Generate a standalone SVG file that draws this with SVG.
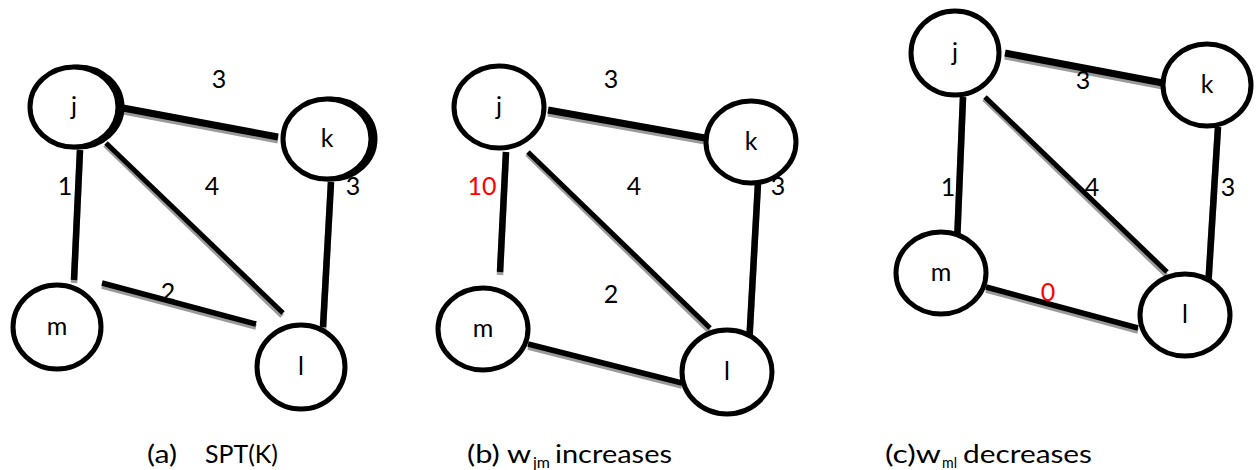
<svg xmlns="http://www.w3.org/2000/svg" width="1259" height="470" viewBox="0 0 1259 470">
<style>
.node{fill:#fff;stroke:#000;stroke-width:5}
.shad{fill:none;stroke:#000;stroke-width:5}
.lbl{font-family:Lato,"Liberation Sans",sans-serif;font-size:25px;fill:#000;text-anchor:middle}
.w{font-family:Lato,"Liberation Sans",sans-serif;font-size:25px;fill:#000;text-anchor:middle}
.red{fill:#ff0000}
.cap{font-family:Lato,"Liberation Sans",sans-serif;font-size:25px;fill:#000}
.sub{font-family:Lato,"Liberation Sans",sans-serif;font-size:16px;fill:#000}
.g{stroke:#9a9a9a;stroke-linecap:butt}
.b{stroke:#000;stroke-linecap:butt}
.jk{stroke-width:7}
.jm{stroke-width:6.5}
.jl{stroke-width:5}
.ml{stroke-width:5.5}
.kl{stroke-width:6.5}
</style>
<g id="connectors">
  <line class="g jk" x1="123" y1="111" x2="278" y2="140"/>
  <line class="b jk" x1="123" y1="108" x2="278" y2="137"/>
  <line class="g jm" x1="80" y1="150" x2="74" y2="283"/>
  <line class="b jm" x1="80" y1="150" x2="74" y2="280"/>
  <line class="g jl" x1="105" y1="145" x2="282" y2="316"/>
  <line class="b jl" x1="106" y1="143" x2="283" y2="313"/>
  <line class="g ml" x1="102" y1="286" x2="256" y2="327"/>
  <line class="b ml" x1="102" y1="283" x2="256" y2="324"/>
  <line class="g kl" x1="331" y1="182" x2="323" y2="330"/>
  <line class="b kl" x1="331" y1="182" x2="323" y2="327"/>
  <line class="g jk" x1="548" y1="113" x2="705" y2="141"/>
  <line class="b jk" x1="548" y1="110" x2="705" y2="138"/>
  <line class="g jm" x1="506" y1="152" x2="500" y2="275"/>
  <line class="b jm" x1="506" y1="152" x2="500" y2="272"/>
  <line class="g jl" x1="527" y1="154" x2="709" y2="331"/>
  <line class="b jl" x1="528" y1="152" x2="710" y2="328"/>
  <line class="g ml" x1="528" y1="347" x2="682" y2="386"/>
  <line class="b ml" x1="528" y1="344" x2="682" y2="383"/>
  <line class="g kl" x1="758" y1="183" x2="749" y2="348"/>
  <line class="b kl" x1="758" y1="183" x2="749" y2="345"/>
  <line class="g jk" x1="1005" y1="56" x2="1163" y2="86"/>
  <line class="b jk" x1="1005" y1="53" x2="1163" y2="83"/>
  <line class="g jm" x1="963" y1="97" x2="957" y2="246"/>
  <line class="b jm" x1="963" y1="97" x2="957" y2="243"/>
  <line class="g jl" x1="984" y1="99" x2="1166" y2="275"/>
  <line class="b jl" x1="985" y1="97" x2="1167" y2="272"/>
  <line class="g ml" x1="986" y1="290" x2="1138" y2="331"/>
  <line class="b ml" x1="986" y1="287" x2="1138" y2="328"/>
  <line class="g kl" x1="1218" y1="127" x2="1208" y2="291"/>
  <line class="b kl" x1="1218" y1="127" x2="1208" y2="288"/>
</g>
<g id="edge-labels">
  <text class="w" x="219" y="88">3</text>
  <text class="w" x="65" y="195">1</text>
  <text class="w" x="212" y="195">4</text>
  <text class="w" x="353" y="195">3</text>
  <text class="w" x="168" y="301">2</text>
  <text class="w" x="611" y="88">3</text>
  <text class="w red" x="482" y="195">10</text>
  <text class="w" x="634" y="195">4</text>
  <text class="w" x="778" y="195">3</text>
  <text class="w" x="611" y="303">2</text>
  <text class="w" x="1083" y="89">3</text>
  <text class="w" x="948" y="196">1</text>
  <text class="w" x="1092" y="196">4</text>
  <text class="w" x="1228" y="196">3</text>
  <text class="w red" x="1048" y="301">0</text>
</g>
<g id="a-j"><ellipse class="shad" cx="78" cy="107" rx="44" ry="40"/><ellipse class="node" cx="74" cy="107" rx="44" ry="40"/><text class="lbl" x="74" y="115">j</text></g>
<g id="a-k"><ellipse class="shad" cx="331" cy="139" rx="44" ry="40"/><ellipse class="node" cx="327" cy="139" rx="44" ry="40"/><text class="lbl" x="327" y="147">k</text></g>
<g id="a-m"><ellipse class="node" cx="57" cy="327" rx="44" ry="42"/><text class="lbl" x="57" y="335">m</text></g>
<g id="a-l"><ellipse class="node" cx="301" cy="367" rx="44" ry="42"/><text class="lbl" x="301" y="375">l</text></g>
<g id="b-j"><ellipse class="node" cx="499" cy="107" rx="45" ry="41"/><text class="lbl" x="499" y="115">j</text></g>
<g id="b-k"><ellipse class="node" cx="751" cy="142" rx="45" ry="41"/><text class="lbl" x="751" y="150">k</text></g>
<g id="b-m"><ellipse class="node" cx="483" cy="329" rx="45" ry="41"/><text class="lbl" x="483" y="337">m</text></g>
<g id="b-l"><ellipse class="node" cx="727" cy="372" rx="45" ry="42"/><text class="lbl" x="727" y="380">l</text></g>
<g id="c-j"><ellipse class="node" cx="955" cy="53" rx="44" ry="42"/><text class="lbl" x="955" y="61">j</text></g>
<g id="c-k"><ellipse class="node" cx="1207" cy="85" rx="44" ry="41"/><text class="lbl" x="1207" y="93">k</text></g>
<g id="c-m"><ellipse class="node" cx="941" cy="273" rx="45" ry="41"/><text class="lbl" x="941" y="281">m</text></g>
<g id="c-l"><ellipse class="node" cx="1185" cy="315" rx="45" ry="41"/><text class="lbl" x="1185" y="323">l</text></g>
<g id="captions">
  <text class="cap" x="147" y="463" textLength="30" lengthAdjust="spacingAndGlyphs">(a)</text>
  <text class="cap" x="205" y="463" textLength="73" lengthAdjust="spacingAndGlyphs">SPT(K)</text>
  <text class="cap" x="467" y="463" textLength="64" lengthAdjust="spacingAndGlyphs">(b) w</text>
  <text class="sub" x="533" y="468" textLength="17" lengthAdjust="spacingAndGlyphs">jm</text>
  <text class="cap" x="555" y="463" textLength="117" lengthAdjust="spacingAndGlyphs">increases</text>
  <text class="cap" x="885" y="463" textLength="56" lengthAdjust="spacingAndGlyphs">(c)w</text>
  <text class="sub" x="942" y="468" textLength="15" lengthAdjust="spacingAndGlyphs">ml</text>
  <text class="cap" x="963" y="463" textLength="129" lengthAdjust="spacingAndGlyphs">decreases</text>
</g>
</svg>
